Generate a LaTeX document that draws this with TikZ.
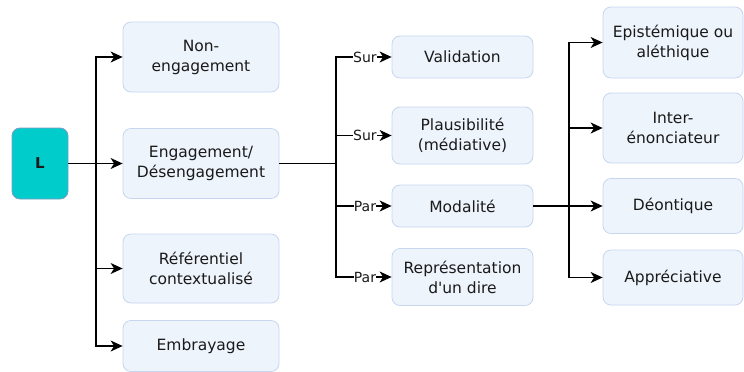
\documentclass[tikz,border=0pt]{standalone}
\usepackage{fontspec}
\setmainfont{DejaVu Sans}
\usetikzlibrary{arrows.meta}
\definecolor{boxfill}{HTML}{EEF4FC}
\definecolor{boxline}{HTML}{C6D6EE}
\definecolor{tealfill}{HTML}{00CCCC}
\definecolor{tealline}{HTML}{7E9BC2}
\definecolor{txt}{HTML}{1A1A1A}
\begin{document}
\begin{tikzpicture}[x=1pt,y=-1pt,
 box/.style={draw=boxline,fill=boxfill,rounded corners=8pt,line width=0.8pt,align=center,text=txt,font=\fontsize{15.5}{20}\selectfont,inner sep=0pt},
 lbox/.style={box,fill=tealfill,draw=tealline,font=\fontsize{15}{18}\selectfont\bfseries},
 arr/.style={line width=1.2pt,-{Stealth[length=12pt,width=11pt,inset=3.5pt]}},
 lbl/.style={fill=white,inner sep=0.3pt,font=\fontsize{14}{15}\selectfont,text=txt}]
\useasboundingbox (0,0) rectangle (744,372);
% left
\node[lbox,minimum width=56pt,minimum height=71pt] (L) at (40,163.5) {L};
\node[box,minimum width=156pt,minimum height=70pt] (ne) at (201,57) {Non-\\engagement};
\node[box,minimum width=156pt,minimum height=70pt] (eng) at (201,163.5) {Engagement/\\Désengagement};
\node[box,minimum width=156pt,minimum height=69pt] (ref) at (201,268.5) {Référentiel\\contextualisé};
\node[box,minimum width=156pt,minimum height=51pt] (emb) at (201,346) {Embrayage};
% middle
\node[box,minimum width=141pt,minimum height=42pt] (val) at (462.5,57) {Validation};
\node[box,minimum width=141pt,minimum height=57pt] (pla) at (462.5,135.5) {Plausibilité\\(médiative)};
\node[box,minimum width=141pt,minimum height=42pt] (mod) at (462.5,206) {Modalité};
\node[box,minimum width=141pt,minimum height=57pt] (rep) at (462.5,277) {Représentation\\d\textquotesingle un dire};
% right
\node[box,minimum width=140pt,minimum height=71pt] (epi) at (673,42.5) {Epistémique ou\\aléthique};
\node[box,minimum width=140pt,minimum height=70pt] (int) at (673,128) {Inter-\\énonciateur};
\node[box,minimum width=140pt,minimum height=55pt] (deo) at (673,206) {Déontique};
\node[box,minimum width=140pt,minimum height=55pt] (app) at (673,277.5) {Appréciative};
% trunks
\coordinate (t1) at (96,163.5);
\coordinate (t2) at (336,163.5);
\coordinate (t3) at (569,206);
% connectors from L
\draw[arr] (L.east) -- (eng.west);
\draw[arr] (L.east) -- (t1) |- (ne.west);
\draw[arr] (L.east) -- (t1) |- (ref.west);
\draw[arr] (L.east) -- (t1) |- (emb.west);
% connectors from Engagement
\draw[arr] (eng.east) -- (t2) |- node[lbl,pos=0.76]{Sur} (val.west);
\draw[arr] (eng.east) -- (t2) |- node[lbl,pos=0.76]{Sur} (pla.west);
\draw[arr] (eng.east) -- (t2) |- node[lbl,pos=0.76]{Par} (mod.west);
\draw[arr] (eng.east) -- (t2) |- node[lbl,pos=0.76]{Par} (rep.west);
% connectors from Modalité
\draw[arr] (mod.east) -- (t3) |- (epi.west);
\draw[arr] (mod.east) -- (t3) |- (int.west);
\draw[arr] (mod.east) -- (deo.west);
\draw[arr] (mod.east) -- (t3) |- (app.west);
\end{tikzpicture}
\end{document}
